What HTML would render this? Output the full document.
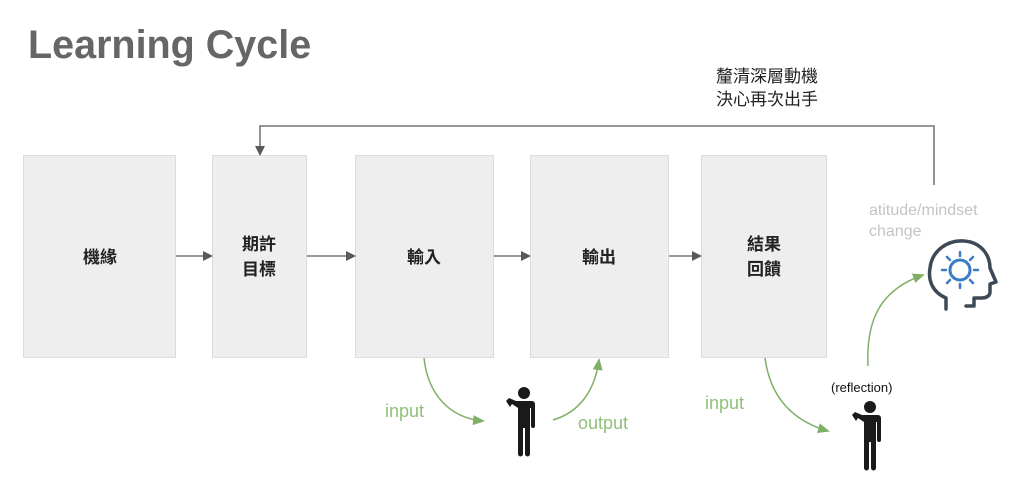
<!DOCTYPE html>
<html><head><meta charset="utf-8">
<style>
html,body{margin:0;padding:0;background:#fff;}
svg{display:block;}
text{font-family:"Liberation Sans","Noto Sans CJK TC",sans-serif;}
</style></head><body>
<svg width="1024" height="484" viewBox="0 0 1024 484" xmlns="http://www.w3.org/2000/svg">
<defs>
<marker id="ag" markerWidth="10" markerHeight="10" refX="8" refY="5" orient="auto" markerUnits="userSpaceOnUse"><path d="M0,0 L10,5 L0,10 z" fill="#595959"/></marker>
<marker id="gr" markerWidth="12" markerHeight="12" refX="10" refY="6" orient="auto" markerUnits="userSpaceOnUse"><path d="M0,1 L12,6 L0,11 z" fill="#7fb068"/></marker>
<g id="person">
<circle cx="14" cy="6" r="6" fill="#1a1a1a"/>
<path d="M6,14 h16 a3,3 0 0 1 3,3 v22 a2,2 0 0 1 -4,0 v-18 h-1 v46 a2.5,2.5 0 0 1 -5,0 v-26 h-2 v26 a2.5,2.5 0 0 1 -5,0 v-46 L2,17 L0,20 L-4,14 L-1,11 z" fill="#1a1a1a"/>
</g>
</defs>
<text x="28" y="58" font-size="39.5" font-weight="bold" fill="#666">Learning Cycle</text>

<g fill="#eeeeee" stroke="#dcdcdc" stroke-width="1">
<rect x="23.5" y="155.5" width="152" height="202"/>
<rect x="212.5" y="155.5" width="94" height="202"/>
<rect x="355.5" y="155.5" width="138" height="202"/>
<rect x="530.5" y="155.5" width="138" height="202"/>
<rect x="701.5" y="155.5" width="125" height="202"/>
</g>
<g font-size="17" fill="#222" text-anchor="middle" font-weight="bold">
<text x="100" y="263">機緣</text>
<text x="259" y="250">期許</text>
<text x="259" y="275">目標</text>
<text x="424" y="263">輸入</text>
<text x="599" y="263">輸出</text>
<text x="764" y="250">結果</text>
<text x="764" y="275">回饋</text>
</g>
<g stroke="#595959" stroke-width="1.3" fill="none">
<line x1="176" y1="256" x2="211" y2="256" marker-end="url(#ag)"/>
<line x1="307" y1="256" x2="354" y2="256" marker-end="url(#ag)"/>
<line x1="494" y1="256" x2="529" y2="256" marker-end="url(#ag)"/>
<line x1="669" y1="256" x2="700" y2="256" marker-end="url(#ag)"/>
<path d="M934,185 V126 H260 V154" marker-end="url(#ag)"/>
</g>
<text x="716" y="82" font-size="17" fill="#222">釐清深層動機</text>
<text x="716" y="105" font-size="17" fill="#222">決心再次出手</text>

<g stroke="#7fb068" stroke-width="1.5" fill="none">
<path d="M424,358 C428,395 450,418 483,421" marker-end="url(#gr)"/>
<path d="M553,420 C580,412 595,390 599,360" marker-end="url(#gr)"/>
<path d="M765,358 C770,395 790,420 828,431" marker-end="url(#gr)"/>
<path d="M868,366 C866,320 880,290 923,275" marker-end="url(#gr)"/>
</g>
<g font-size="18" fill="#8fbf78">
<text x="385" y="417">input</text>
<text x="578" y="429">output</text>
<text x="705" y="409">input</text>
</g>
<text x="831" y="392" font-size="13" fill="#111">(reflection)</text>
<use href="#person" x="510" y="387"/>
<use href="#person" x="856" y="401"/>

<text x="869" y="215" font-size="16" fill="#c4c4c4">atitude/mindset</text>
<text x="869" y="236" font-size="16" fill="#c4c4c4">change</text>

<g transform="translate(926,240)">
<path d="M20,69 V58 C6,52 2,40 4,28 C6,10 22,0 38,1 C54,2 64,14 64,28 L70,42 L64,44 V52 C64,56 60,58 56,58 H48 V66 H40" fill="none" stroke="#3d4a55" stroke-width="3.5" stroke-linecap="round" stroke-linejoin="round"/>
<circle cx="34" cy="30" r="10" fill="none" stroke="#3a7cc4" stroke-width="3"/>
<g stroke="#3a7cc4" stroke-width="2.5" stroke-linecap="round">
<line x1="34" y1="12" x2="34" y2="16"/><line x1="34" y1="44" x2="34" y2="48"/>
<line x1="16" y1="30" x2="20" y2="30"/><line x1="48" y1="30" x2="52" y2="30"/>
<line x1="21" y1="17" x2="24" y2="20"/><line x1="44" y1="40" x2="47" y2="43"/>
<line x1="47" y1="17" x2="44" y2="20"/><line x1="24" y1="40" x2="21" y2="43"/>
</g>
</g>
</svg>
</body></html>
